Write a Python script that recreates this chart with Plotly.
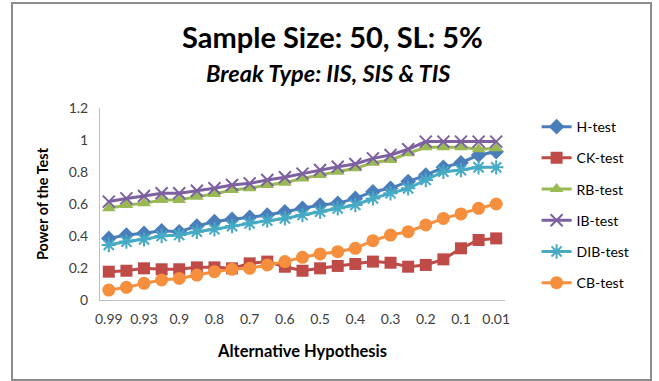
import plotly.graph_objects as go

categories = ["0.99", "0.95", "0.93", "0.92", "0.9", "0.85", "0.8", "0.75", "0.7", "0.65", "0.6",
              "0.55", "0.5", "0.45", "0.4", "0.35", "0.3", "0.25", "0.2", "0.15", "0.1", "0.05", "0.01"]
tick_labels = ["0.99", "0.93", "0.9", "0.8", "0.7", "0.6", "0.5", "0.4", "0.3", "0.2", "0.1", "0.01"]

h_test = [0.385, 0.406, 0.417, 0.433, 0.427, 0.462, 0.490, 0.504, 0.517, 0.531, 0.552, 0.573,
          0.594, 0.604, 0.635, 0.677, 0.698, 0.740, 0.781, 0.829, 0.858, 0.906, 0.927]
ck_test = [0.177, 0.183, 0.198, 0.192, 0.192, 0.204, 0.204, 0.198, 0.229, 0.240, 0.208, 0.183,
           0.198, 0.213, 0.225, 0.240, 0.233, 0.208, 0.219, 0.254, 0.323, 0.375, 0.385]
rb_test = [0.573, 0.594, 0.604, 0.625, 0.625, 0.646, 0.662, 0.687, 0.698, 0.719, 0.733, 0.760,
           0.781, 0.802, 0.823, 0.858, 0.875, 0.917, 0.954, 0.954, 0.954, 0.942, 0.948]
ib_test = [0.615, 0.635, 0.650, 0.667, 0.667, 0.683, 0.698, 0.719, 0.729, 0.750, 0.767, 0.790,
           0.812, 0.833, 0.850, 0.885, 0.906, 0.942, 0.990, 0.990, 0.990, 0.990, 0.990]
dib_test = [0.344, 0.365, 0.379, 0.400, 0.406, 0.427, 0.442, 0.462, 0.479, 0.496, 0.510, 0.531,
            0.552, 0.573, 0.594, 0.635, 0.667, 0.698, 0.750, 0.802, 0.812, 0.829, 0.829]
cb_test = [0.062, 0.079, 0.104, 0.125, 0.135, 0.156, 0.177, 0.192, 0.198, 0.219, 0.240, 0.267,
           0.288, 0.302, 0.323, 0.371, 0.406, 0.427, 0.469, 0.510, 0.538, 0.573, 0.600]

x_idx = list(range(len(categories)))
tick_vals = [categories.index(t) for t in tick_labels]

series = [
    ("H-test", h_test, "#4A7EBB", dict(symbol="diamond", size=12)),
    ("CK-test", ck_test, "#BE4B48", dict(symbol="square", size=12)),
    ("RB-test", rb_test, "#98B954", dict(symbol="triangle-up", size=12)),
    ("IB-test", ib_test, "#7D60A0", dict(symbol="x-thin-open", size=12, line=dict(width=2, color="#7D60A0"))),
    ("DIB-test", dib_test, "#46AAC5", dict(symbol="asterisk-open", size=12, line=dict(width=2, color="#46AAC5"))),
    ("CB-test", cb_test, "#F58F3E", dict(symbol="circle", size=13)),
]

fig = go.Figure()
for i, (name, vals, color, marker) in enumerate(series):
    m = dict(color=color)
    m.update(marker)
    fig.add_trace(go.Scatter(x=x_idx, y=vals, name=name, mode="lines+markers",
                             line=dict(color=color, width=3), marker=m, legendgroup=name))

font_main = "Lato, 'Open Sans', sans-serif"
fig.update_layout(
    width=659, height=381,
    margin=dict(l=100, r=154, t=108, b=81),
    paper_bgcolor="white", plot_bgcolor="white",
    font=dict(family=font_main, size=14, color="#404040"),
    showlegend=True,
    legend=dict(x=1.078, y=0.984, xanchor="left", yanchor="top", tracegroupgap=10, maxheight=300,
                font=dict(size=14, color="#000000"), bgcolor="rgba(0,0,0,0)"),
    xaxis=dict(range=[-0.5, len(categories) - 0.5], tickvals=tick_vals, ticktext=tick_labels,
               showgrid=False, zeroline=False, showline=True, linecolor="#BFBFBF", linewidth=1,
               ticks="", tickfont=dict(size=14, color="#404040"), ticklabelstandoff=6,
               title=dict(text="<b>Alternative Hypothesis</b>", font=dict(size=16.5, color="#000000"), standoff=19)),
    yaxis=dict(range=[0, 1.2], dtick=0.2, showgrid=False, zeroline=False, showline=True,
               linecolor="#BFBFBF", linewidth=1, ticks="", tickfont=dict(size=14, color="#404040"),
               ticklabelstandoff=8,
               title=dict(text="<b>Power of the Test</b>", font=dict(size=14.5, color="#000000"), standoff=16)),
    shapes=[dict(type="rect", xref="paper", yref="paper", x0=(12 - 100) / 405, x1=(651 - 100) / 405,
                 y0=-(380 - 300) / 192, y1=(300 - 3) / 192, line=dict(color="#8C8C8C", width=2))],
    annotations=[
        dict(text="<b>Sample Size: 50, SL: 5%</b>", xref="paper", yref="paper", x=(332 - 100) / 405,
             y=(300 - 37) / 192, xanchor="center", yanchor="middle", showarrow=False,
             font=dict(size=29, color="#000000", family=font_main)),
        dict(text="<b><i>Break Type: IIS, SIS & TIS</i></b>", xref="paper", yref="paper", x=(328 - 100) / 405,
             y=(300 - 73) / 192, xanchor="center", yanchor="middle", showarrow=False,
             font=dict(size=23.5, color="#000000", family=font_main)),
    ],
)

fig.write_html("out.html")
